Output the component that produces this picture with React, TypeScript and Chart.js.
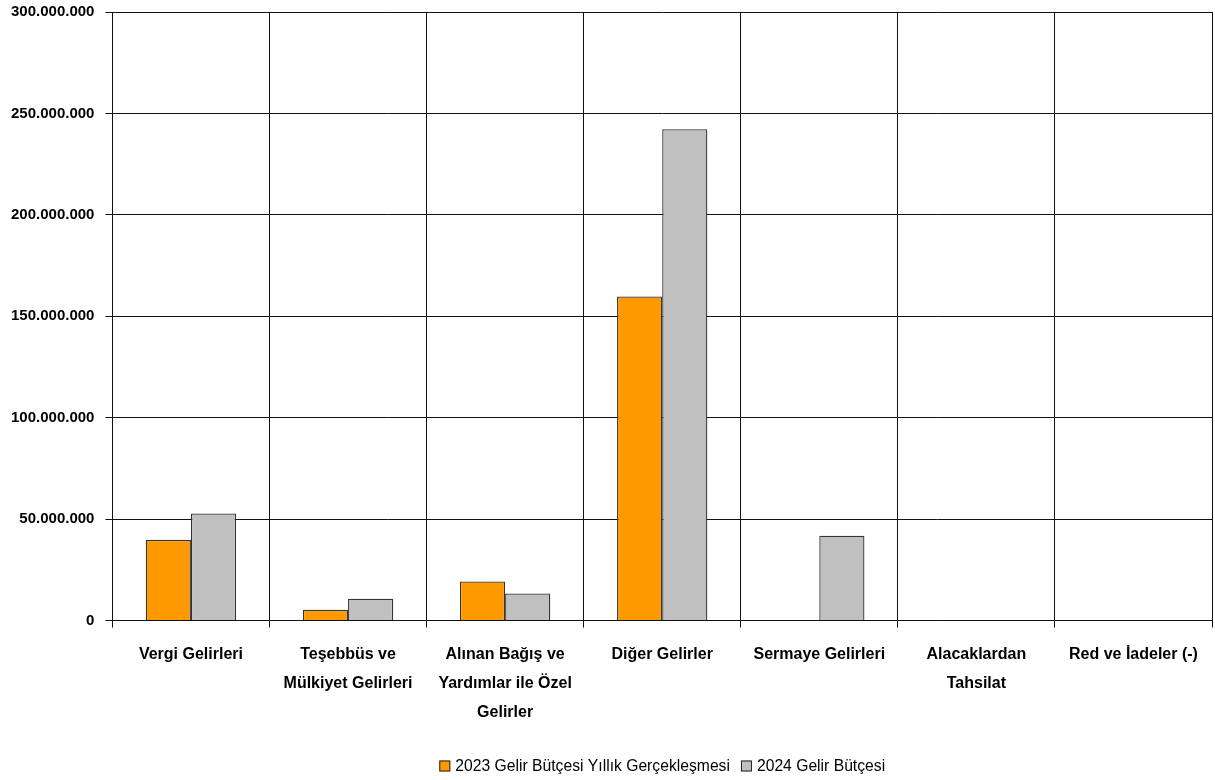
import React, { useEffect, useRef } from "react";
import { Chart, registerables } from "chart.js";

Chart.register(...registerables);

const categories: (string | string[])[] = [
  "Vergi Gelirleri",
  ["Teşebbüs ve", "Mülkiyet Gelirleri"],
  ["Alınan Bağış ve", "Yardımlar ile Özel", "Gelirler"],
  "Diğer Gelirler",
  "Sermaye Gelirleri",
  ["Alacaklardan", "Tahsilat"],
  "Red ve İadeler (-)",
];

const series2023Label = "2023 Gelir Bütçesi Yıllık Gerçekleşmesi";
const series2024Label = "2024 Gelir Bütçesi";

const values2023 = [39800000, 5300000, 19300000, 159800000, 0, 0, 0];
const values2024 = [52800000, 10800000, 13400000, 242200000, 41800000, 0, 0];

const yMax = 300000000;
const yStep = 50000000;

const FONT = "'Liberation Sans', Arial, sans-serif";

function formatTick(v: number): string {
  return String(Math.round(v)).replace(/\B(?=(\d{3})+(?!\d))/g, ".");
}

const customLegend = {
  id: "customLegend",
  afterDraw(chart: any) {
    const ctx = chart.ctx as CanvasRenderingContext2D;
    const area = chart.chartArea;
    const items = chart.data.datasets.map((d: any) => ({
      label: d.label as string,
      color: d.backgroundColor as string,
    }));
    ctx.save();
    ctx.font = `15.7px ${FONT}`;
    const box = 11;
    const gapText = 5;
    const gapItem = 11;
    let total = 0;
    const widths = items.map((it: any) => ctx.measureText(it.label).width);
    widths.forEach((w: number, i: number) => {
      total += box + gapText + w + (i > 0 ? gapItem : 0);
    });
    let x = (area.left + area.right) / 2 - total / 2;
    const y = 766;
    items.forEach((it: any, i: number) => {
      ctx.fillStyle = it.color;
      ctx.fillRect(x, y - box / 2, box, box);
      ctx.strokeStyle = "#222";
      ctx.lineWidth = 1;
      ctx.strokeRect(x + 0.5, y - box / 2 + 0.5, box - 1, box - 1);
      ctx.fillStyle = "#000";
      ctx.textBaseline = "middle";
      ctx.textAlign = "left";
      ctx.fillText(it.label, x + box + gapText, y + 1);
      x += box + gapText + widths[i] + gapItem;
    });
    ctx.restore();
  },
};

export default function App() {
  const ref = useRef<HTMLCanvasElement | null>(null);

  useEffect(() => {
    if (!ref.current) return;
    const chart = new Chart(ref.current, {
      type: "bar",
      data: {
        labels: categories,
        datasets: [
          {
            label: series2023Label,
            data: values2023,
            backgroundColor: "#FF9900",
            borderColor: "#333333",
            borderWidth: 1.3,
            categoryPercentage: 0.575,
            barPercentage: 1,
          },
          {
            label: series2024Label,
            data: values2024,
            backgroundColor: "#C0C0C0",
            borderColor: "#333333",
            borderWidth: 1.3,
            categoryPercentage: 0.575,
            barPercentage: 1,
          },
        ],
      },
      options: {
        responsive: false,
        animation: false,
        layout: { padding: { left: 0, right: 3, top: 12, bottom: 40 } },
        plugins: {
          legend: { display: false },
          tooltip: { enabled: false },
        },
        scales: {
          x: {
            grid: {
              offset: true,
              color: "#111",
              lineWidth: 1,
              tickLength: 7,
              drawTicks: true,
            },
            border: { color: "#111", width: 1 },
            ticks: {
              color: "#000",
              font: { family: FONT, size: 16, weight: "bold", lineHeight: 1.8 },
              padding: 13,
              maxRotation: 0,
              autoSkip: false,
            },
          },
          y: {
            min: 0,
            max: yMax,
            grid: { color: "#111", lineWidth: 1, tickLength: 7 },
            border: { color: "#111", width: 1 },
            ticks: {
              stepSize: yStep,
              color: "#000",
              font: { family: FONT, size: 15, weight: "bold", lineHeight: 0.1 },
              padding: 11,
              callback: (v: any) => formatTick(Number(v)),
            },
          },
        },
      },
      plugins: [customLegend],
    });
    return () => chart.destroy();
  }, []);

  return (
    <div style={{ position: "fixed", left: 0, top: 0, width: 1215, height: 780, background: "#fff" }}>
      <canvas ref={ref} width={1215} height={780} />
    </div>
  );
}
